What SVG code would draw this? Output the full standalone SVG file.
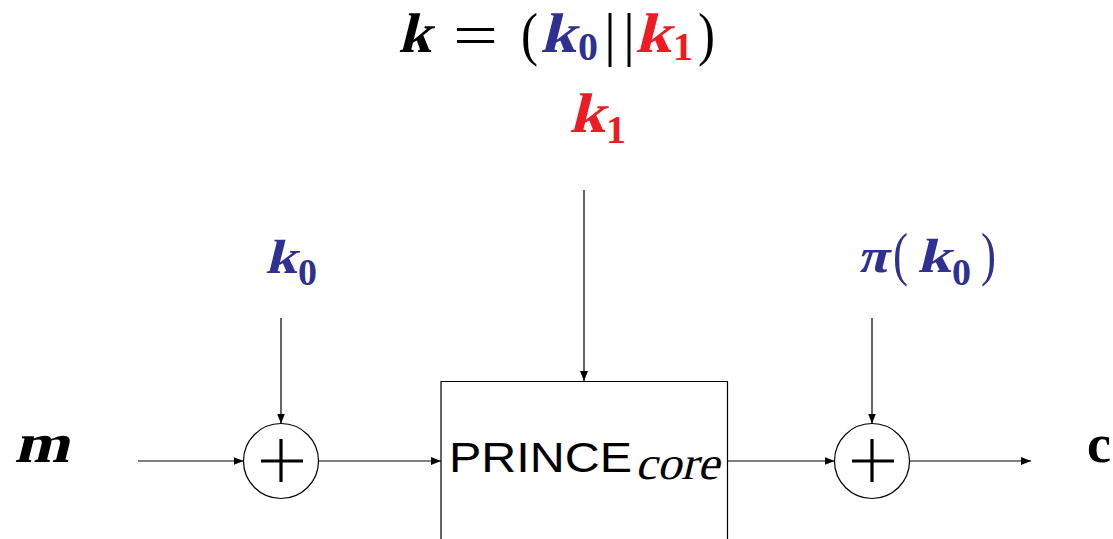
<svg xmlns="http://www.w3.org/2000/svg" width="1113" height="539" viewBox="0 0 1113 539">
<style>
.mi{font-family:"Liberation Serif",serif;font-weight:bold}
.it{font-family:"Liberation Serif",serif;font-weight:normal}
.rm{font-family:"Liberation Serif",serif}
.sb{font-family:"Liberation Serif",serif;font-weight:bold}
.ss{font-family:"Liberation Sans",Arial,sans-serif}
.blue{fill:#2e3192}
.red{fill:#ed1c24}
.ln{stroke:#000;stroke-width:1.2;fill:none}
.xor{fill:#fff;stroke:#000;stroke-width:1.2}
.plus{stroke:#000;stroke-width:3.2;fill:none}
</style>
<defs>
<marker id="ah" viewBox="0 0 10 8" refX="10" refY="4" markerWidth="10" markerHeight="8" markerUnits="userSpaceOnUse" orient="auto">
<path d="M0,0 L10,4 L0,8 Z" fill="#000"/>
</marker>
</defs>
<g id="title">
<text class="mi" transform="translate(398,52) skewX(-14)" font-size="56" textLength="33" lengthAdjust="spacingAndGlyphs">k</text>
<text class="rm" x="453" y="55" font-size="60" textLength="45" lengthAdjust="spacingAndGlyphs">=</text>
<text class="rm" x="521" y="54" font-size="60" textLength="17" lengthAdjust="spacingAndGlyphs">(</text>
<text class="mi blue" transform="translate(540,52) skewX(-14)" font-size="56" textLength="36" lengthAdjust="spacingAndGlyphs">k</text>
<text class="sb blue" x="578" y="60" font-size="40">0</text>
<text class="rm" x="604" y="54" font-size="60">|</text>
<text class="rm" x="623" y="54" font-size="60">|</text>
<text class="mi red" transform="translate(635,52) skewX(-14)" font-size="56" textLength="36" lengthAdjust="spacingAndGlyphs">k</text>
<text class="sb red" x="673" y="60" font-size="40">1</text>
<text class="rm" x="698" y="54" font-size="60" textLength="17" lengthAdjust="spacingAndGlyphs">)</text>
</g>
<g id="k1-label">
<text class="mi red" transform="translate(569,132) skewX(-14)" font-size="56" textLength="36" lengthAdjust="spacingAndGlyphs">k</text>
<text class="sb red" x="606" y="143" font-size="40">1</text>
</g>
<g id="k0-label">
<text class="mi blue" transform="translate(265,273) skewX(-14)" font-size="48" textLength="32" lengthAdjust="spacingAndGlyphs">k</text>
<text class="sb blue" x="298" y="285" font-size="38">0</text>
</g>
<g id="pik0-label">
<text class="mi blue" transform="translate(857,272) skewX(-14)" font-size="48" textLength="30" lengthAdjust="spacingAndGlyphs">π</text>
<text class="rm blue" x="893" y="274" font-size="60" textLength="15" lengthAdjust="spacingAndGlyphs">(</text>
<text class="mi blue" transform="translate(917,272) skewX(-14)" font-size="48" textLength="34" lengthAdjust="spacingAndGlyphs">k</text>
<text class="sb blue" x="952" y="285" font-size="38">0</text>
<text class="rm blue" x="981" y="274" font-size="60" textLength="15" lengthAdjust="spacingAndGlyphs">)</text>
</g>
<g id="m-label">
<text class="mi" transform="translate(14,462) skewX(-14)" font-size="56" textLength="55" lengthAdjust="spacingAndGlyphs">m</text>
</g>
<g id="c-label">
<text class="mi" x="1087" y="462" font-size="54" textLength="24" lengthAdjust="spacingAndGlyphs">c</text>
</g>
<g id="xor1">
<circle class="xor" cx="281" cy="461" r="37.5"/>
<path class="plus" d="M261,461 H303 M281,439 V482"/>
</g>
<g id="prince-core">
<path class="ln" d="M441,545 V381.5 H727.5 V545"/>
<text class="ss" x="449" y="472" font-size="42" textLength="183" lengthAdjust="spacingAndGlyphs">PRINCE</text>
<text class="it" transform="translate(635,479) skewX(-14)" font-size="47" textLength="84" lengthAdjust="spacingAndGlyphs">core</text>
</g>
<g id="xor2">
<circle class="xor" cx="872" cy="461" r="37.5"/>
<path class="plus" d="M852,461 H894 M872,439 V482"/>
</g>
<g id="connectors">
<line class="ln" x1="138" y1="461" x2="243.5" y2="461" marker-end="url(#ah)"/>
<line class="ln" x1="318.5" y1="461" x2="441" y2="461" marker-end="url(#ah)"/>
<line class="ln" x1="281" y1="318" x2="281" y2="423.5" marker-end="url(#ah)"/>
<line class="ln" x1="584" y1="190" x2="584" y2="381" marker-end="url(#ah)"/>
<line class="ln" x1="727.5" y1="461" x2="834.5" y2="461" marker-end="url(#ah)"/>
<line class="ln" x1="872" y1="318" x2="872" y2="423.5" marker-end="url(#ah)"/>
<line class="ln" x1="909.5" y1="461" x2="1031" y2="461" marker-end="url(#ah)"/>
</g>
</svg>
